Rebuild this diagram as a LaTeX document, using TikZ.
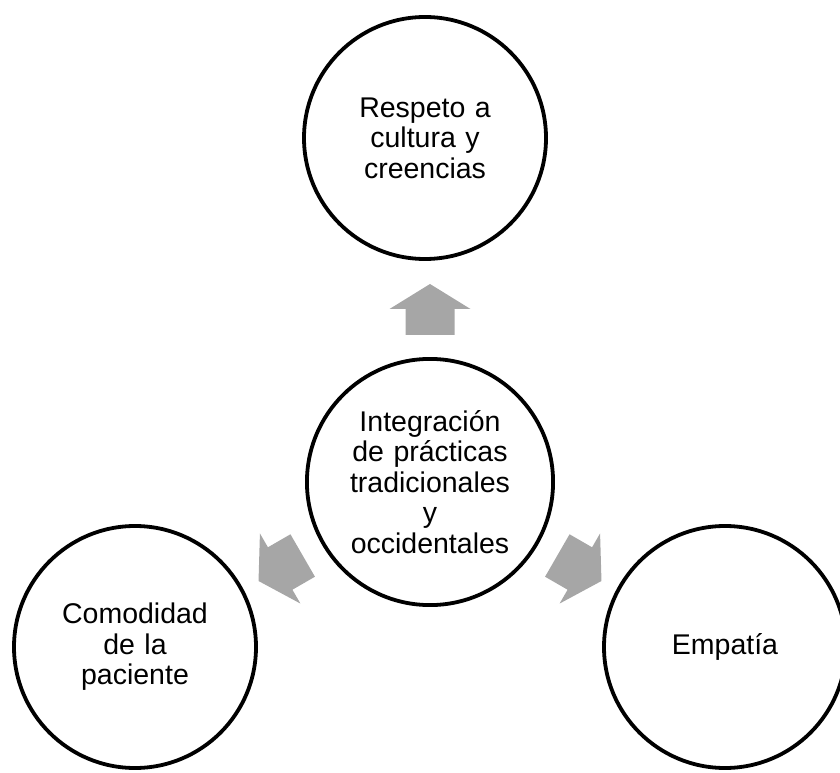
\documentclass[tikz,border=0pt]{standalone}
\usepackage{fontspec}
\setmainfont{Liberation Sans}
\begin{document}
\begin{tikzpicture}[x=1pt,y=1pt,
  bubble/.style={circle, draw=black, line width=3.8pt, minimum size=242pt, inner sep=0pt,
    align=center, text width=200pt, font=\fontsize{28.5}{30.5}\selectfont},
  arrowfill/.style={fill=arrowgray, draw=none}]
\definecolor{arrowgray}{RGB}{166,166,166}
\useasboundingbox (0,0) rectangle (840,772);
\clip (0,0) rectangle (840,772);
\node[bubble] (top) at (425,634) {Respeto a\\cultura y\\creencias};
\node[bubble] (mid) at (430,290) {Integración\\de prácticas\\tradicionales\\y\\occidentales};
\node[bubble] (left) at (135,125) {Comodidad\\de la\\paciente};
\node[bubble] (right) at (725,125) {Empatía};
\foreach \ang in {90,210,330}{
  \begin{scope}[shift={(mid.center)}, rotate=\ang]
    \fill[arrowfill] (147,-24.5) -- (173,-24.5) -- (173,-40.5) -- (198,0) -- (173,40.5) -- (173,24.5) -- (147,24.5) -- cycle;
  \end{scope}
}
\end{tikzpicture}
\end{document}
